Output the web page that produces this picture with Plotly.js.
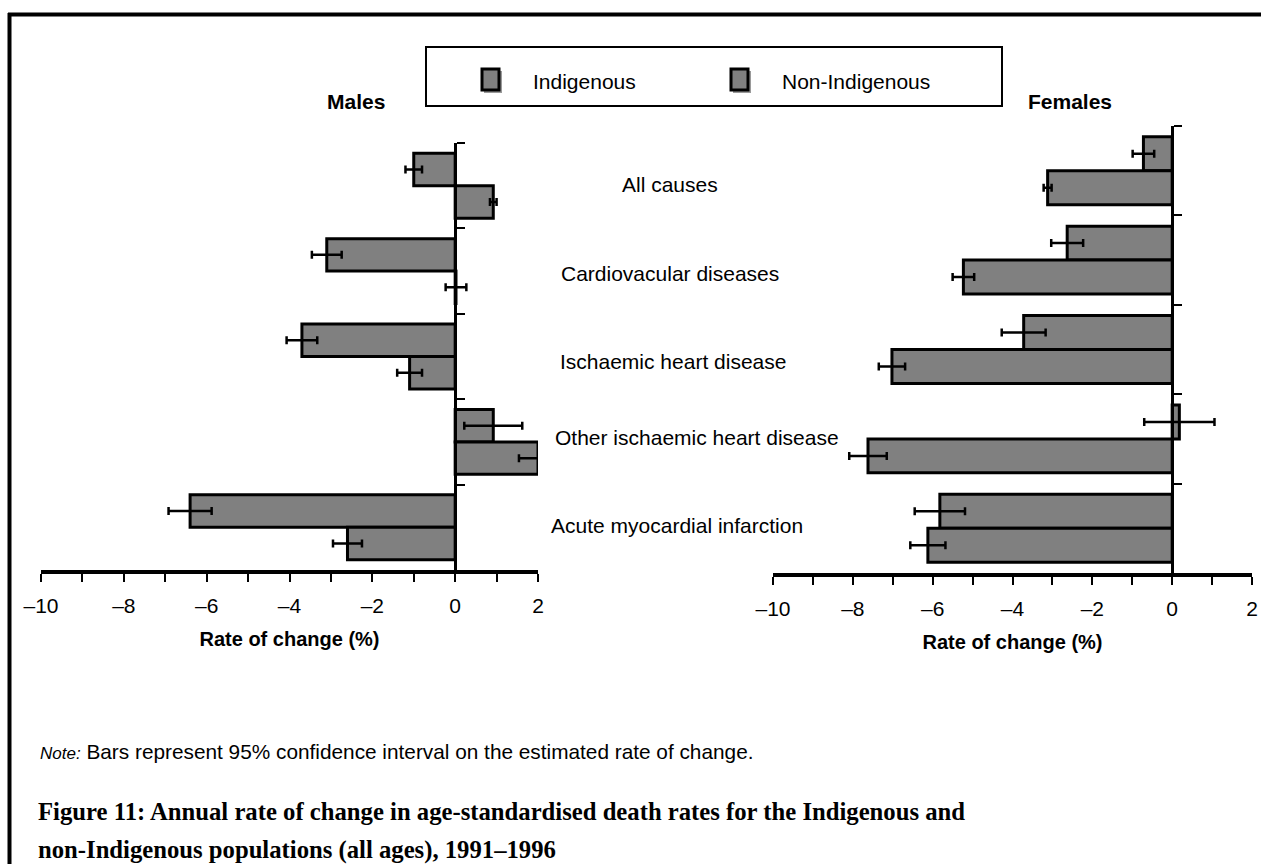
<!DOCTYPE html>
<html>
<head>
<meta charset="utf-8">
<script src="https://cdn.plot.ly/plotly-3.0.1.min.js"></script>
<style>
  html, body { margin: 0; padding: 0; background: #ffffff; }
  #chart { width: 1261px; height: 864px; }
</style>
</head>
<body>
<div id="chart"></div>
<script>
// ---------------- data ----------------
const categories = [
  "All causes",
  "Cardiovacular diseases",
  "Ischaemic heart disease",
  "Other ischaemic heart disease",
  "Acute myocardial infarction"
];
const seriesNames = ["Indigenous", "Non-Indigenous"];

const malesIndigenous      = [-1.00, -3.10, -3.70, 0.92, -6.40];
const malesIndigenousCI    = [ 0.20,  0.36,  0.37, 0.70,  0.52];
const malesNonIndigenous   = [ 0.92,  0.02, -1.10, 2.00, -2.60];
const malesNonIndigenousCI = [ 0.08,  0.25,  0.30, 0.46,  0.35];

const femalesIndigenous      = [-0.72, -2.63, -3.72, 0.18, -5.82];
const femalesIndigenousCI    = [ 0.27,  0.40,  0.55, 0.88,  0.63];
const femalesNonIndigenous   = [-3.12, -5.23, -7.02, -7.62, -6.12];
const femalesNonIndigenousCI = [ 0.10,  0.27,  0.33, 0.47,  0.44];

const xTickVals = [-10, -8, -6, -4, -2, 0, 2];
const xTickText = ["\u201310", "\u20138", "\u20136", "\u20134", "\u20132", "0", "2"];

// ---------------- layout helpers ----------------
const W = 1261, H = 864;
const px = v => v / W;
const py = v => 1 - v / H;
const FONT = "Liberation Sans, Arial, Helvetica, sans-serif";
const SERIF = "Liberation Serif, Times New Roman, serif";
const BAR_FILL = "#808080";

function barTrace(name, vals, ci, xa, ya) {
  return {
    type: "bar", orientation: "h", name: name,
    x: vals, y: categories, xaxis: xa, yaxis: ya,
    marker: { color: BAR_FILL, line: { color: "#000000", width: 3 } },
    error_x: { type: "data", array: ci, visible: true, color: "#000000", thickness: 2.5, width: 4 },
    showlegend: false, hoverinfo: "x+y"
  };
}

const data = [
  barTrace(seriesNames[0], malesIndigenous, malesIndigenousCI, "x", "y"),
  barTrace(seriesNames[1], malesNonIndigenous, malesNonIndigenousCI, "x", "y"),
  barTrace(seriesNames[0], femalesIndigenous, femalesIndigenousCI, "x2", "y2"),
  barTrace(seriesNames[1], femalesNonIndigenous, femalesNonIndigenousCI, "x2", "y2")
];

const XRANGE = [-10, 2];
function xAxis(domain, anchor) {
  return {
    domain: domain, range: XRANGE, anchor: anchor,
    tickmode: "array", tickvals: xTickVals, ticktext: xTickText,
    ticks: "outside", ticklen: 8, tickwidth: 2, tickcolor: "#000",
    ticklabelstandoff: 6,
    minor: { dtick: 1, tick0: 0, ticks: "outside", ticklen: 8, tickwidth: 2, tickcolor: "#000", showgrid: false },
    showline: true, linecolor: "#000", linewidth: 3.5,
    showgrid: false, zeroline: false,
    tickfont: { family: FONT, size: 21, color: "#000" },
    title: { text: "<b>Rate of change (%)</b>", standoff: 17,
             font: { family: FONT, size: 20, color: "#000" } },
    fixedrange: true
  };
}
function yAxis(domain, xDomain) {
  const pos = xDomain[0] + (0 - XRANGE[0]) / (XRANGE[1] - XRANGE[0]) * (xDomain[1] - xDomain[0]);
  return {
    domain: domain, type: "category", autorange: "reversed",
    categoryorder: "array", categoryarray: categories,
    anchor: "free", position: pos, side: "right",
    tickson: "boundaries", ticks: "outside", ticklen: 8, tickwidth: 2, tickcolor: "#000",
    showticklabels: false,
    showline: true, linecolor: "#000", linewidth: 3,
    showgrid: false, zeroline: false, fixedrange: true
  };
}

const mxDom = [px(41), px(538)];
const myDom = [py(570), py(143)];
const fxDom = [px(773), px(1252)];
const fyDom = [py(573), py(126)];

// category label positions (layout only)
const labelX = [670, 670, 673, 697, 677];
const labelY = [185, 273, 361, 437, 525];

const annotations = [];
categories.forEach((c, i) => {
  annotations.push({
    xref: "paper", yref: "paper", x: px(labelX[i]), y: py(labelY[i]),
    xanchor: "center", yanchor: "middle", showarrow: false, text: c,
    font: { family: FONT, size: 21, color: "#000" }
  });
});
annotations.push(
  { xref: "paper", yref: "paper", x: px(356), y: py(101), xanchor: "center", yanchor: "middle",
    showarrow: false, text: "<b>Males</b>", font: { family: FONT, size: 21, color: "#000" } },
  { xref: "paper", yref: "paper", x: px(1070), y: py(101), xanchor: "center", yanchor: "middle",
    showarrow: false, text: "<b>Females</b>", font: { family: FONT, size: 21, color: "#000" } },
  { xref: "paper", yref: "paper", x: px(531), y: py(81), xanchor: "left", yanchor: "middle",
    showarrow: false, text: seriesNames[0], font: { family: FONT, size: 21, color: "#000" } },
  { xref: "paper", yref: "paper", x: px(780), y: py(81), xanchor: "left", yanchor: "middle",
    showarrow: false, text: seriesNames[1], font: { family: FONT, size: 21, color: "#000" } },
  { xref: "paper", yref: "paper", x: px(38), y: py(751), xanchor: "left", yanchor: "middle",
    showarrow: false,
    text: "<i><span style=\"font-size:17px\">Note:</span></i> Bars represent 95% confidence interval on the estimated rate of change.",
    font: { family: FONT, size: 20.8, color: "#000" } },
  { xref: "paper", yref: "paper", x: px(36), y: py(811), xanchor: "left", yanchor: "middle",
    showarrow: false, text: "<b>Figure 11: Annual rate of change in age-standardised death rates for the Indigenous and</b>",
    font: { family: SERIF, size: 24.7, color: "#000" } },
  { xref: "paper", yref: "paper", x: px(36), y: py(850), xanchor: "left", yanchor: "middle",
    showarrow: false, text: "<b>non-Indigenous populations (all ages), 1991\u20131996</b>",
    font: { family: SERIF, size: 24.7, color: "#000" } }
);

function legendSwatch(x) {
  return [
    { type: "rect", xref: "paper", yref: "paper", x0: px(x + 2), x1: px(x + 20), y0: py(71), y1: py(93),
      fillcolor: "#9a9a9a", line: { width: 0 } },
    { type: "rect", xref: "paper", yref: "paper", x0: px(x), x1: px(x + 17), y0: py(69), y1: py(90),
      fillcolor: BAR_FILL, line: { color: "#000", width: 3 } }
  ];
}

const shapes = [
  // outer frame (top and left rules)
  { type: "line", xref: "paper", yref: "paper", x0: px(8), x1: 1, y0: py(14.5), y1: py(14.5),
    line: { color: "#000", width: 4 } },
  { type: "line", xref: "paper", yref: "paper", x0: px(9.5), x1: px(9.5), y0: py(13), y1: 0,
    line: { color: "#000", width: 4 } },
  // legend box
  { type: "rect", xref: "paper", yref: "paper", x0: px(426), x1: px(1002), y0: py(47), y1: py(106),
    line: { color: "#000", width: 2 }, fillcolor: "rgba(0,0,0,0)" },
  ...legendSwatch(482),
  ...legendSwatch(731)
];

const layout = {
  width: W, height: H,
  margin: { l: 0, r: 0, t: 0, b: 0, pad: 0 },
  paper_bgcolor: "#ffffff", plot_bgcolor: "rgba(0,0,0,0)",
  barmode: "group", bargap: 0.24, bargroupgap: 0,
  showlegend: false,
  font: { family: FONT, size: 21, color: "#000" },
  xaxis: xAxis(mxDom, "y"),
  yaxis: yAxis(myDom, mxDom),
  xaxis2: xAxis(fxDom, "y2"),
  yaxis2: yAxis(fyDom, fxDom),
  annotations: annotations,
  shapes: shapes
};

Plotly.newPlot("chart", data, layout, { displayModeBar: false, staticPlot: true });
</script>
</body>
</html>
